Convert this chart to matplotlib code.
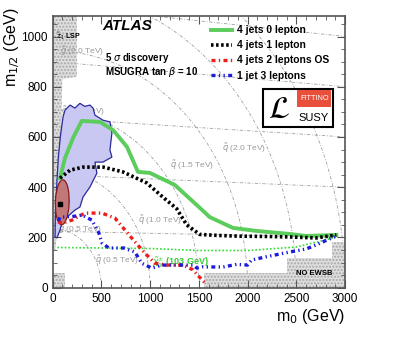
import numpy as np
import matplotlib
matplotlib.use("Agg")
import matplotlib.pyplot as plt
from matplotlib.patches import Polygon, Rectangle, Ellipse
from matplotlib.ticker import MultipleLocator

plt.rcParams['font.family'] = ['Liberation Sans', 'DejaVu Sans']
plt.rcParams['mathtext.fontset'] = 'dejavusans'

# ---------------- data ----------------
green_m0 = [77, 128, 215, 300, 486, 620, 763, 876, 998, 1254, 1510, 1612, 1850, 2090, 2430, 2600, 2910]
green_m12 = [436, 516, 600, 664, 660, 628, 561, 461, 457, 409, 318, 281, 238, 226, 214, 206, 210]

black_m0 = [77, 180, 313, 520, 722, 966, 1133, 1272, 1376, 1510, 1700, 1920, 2200, 2430, 2700, 2910]
black_m12 = [436, 468, 480, 480, 461, 417, 360, 315, 250, 212, 208, 205, 204, 202, 198, 210]

red_m0 = [56, 97, 200, 333, 507, 640, 742, 844, 946, 1048, 1170, 1340, 1440, 1500, 1560]
red_m12 = [262, 257, 269, 297, 297, 277, 230, 183, 138, 98, 90, 90, 71, 45, 20]

blue_m0 = [60, 77, 200, 302, 404, 476, 507, 578, 731, 844, 916, 1018, 1120, 1272, 1440, 1480,
           1540, 1745, 1890, 2000, 2040, 2190, 2430, 2600, 2700, 2910]
blue_m12 = [265, 281, 283, 289, 269, 217, 178, 158, 158, 142, 97, 78, 90, 90, 90, 78,
            83, 82, 93, 90, 110, 123, 142, 154, 170, 206]

lep_m0 = [50, 1000, 1500, 2000, 2500, 2900]
lep_m12 = [160, 156, 148, 148, 162, 200]

fit95_m0 = [128, 180, 230, 281, 330, 384, 416, 435, 517, 589, 609, 589, 609, 517, 435, 455,
            384, 313, 281, 230, 148, 97, 77, 46, 26, 30, 46, 60, 80, 108]
fit95_m12 = [707, 727, 715, 734, 722, 727, 715, 687, 667, 660, 616, 548, 520, 500, 500, 456,
             401, 361, 321, 309, 281, 257, 230, 198, 202, 300, 428, 520, 600, 680]

lsp_m0 = [0, 250, 250, 100, 90, 60, 40, 30, 0]
lsp_m12 = [1082, 1082, 840, 830, 600, 400, 200, 150, 150]

corner_m0 = [0, 130, 130, 0]
corner_m12 = [0, 0, 58, 58]

ewsb_m0 = [1550, 1550, 2400, 2400, 2870, 2870, 3000, 3000]
ewsb_m12 = [0, 58, 58, 118, 118, 180, 180, 0]

squark_masses = [500, 1000, 1500, 2000, 2500, 3000]
gluino_masses = [500, 1000, 1500, 2000, 2500]

legend_labels = ['4 jets 0 lepton', '4 jets 1 lepton', '4 jets 2 leptons OS', '1 jet 3 leptons']

# ---------------- figure ----------------
fig = plt.figure(figsize=(4.07, 3.44), dpi=100)
ax = fig.add_axes([0.129, 0.1637, 0.719, 0.79])
ax.set_xlim(0, 3000)
ax.set_ylim(0, 1082)

gray = '#a0a0a0'
# squark iso-mass contours
m0g = np.linspace(0, 3000, 600)
for M in squark_masses:
    v = (M**2 - m0g**2) / 4.5
    ok = v >= 0
    ax.plot(m0g[ok], np.sqrt(v[ok]), color=gray, lw=0.6, ls=(0, (4, 2, 1, 2)), zorder=1)
# gluino iso-mass contours
for M in gluino_masses:
    ax.plot(m0g, M * 0.45 * (1 - 0.037 * m0g / 1000), color=gray, lw=0.6,
            ls=(0, (4, 2, 1, 2)), zorder=1)

lblkw = dict(color='#999999', fontsize=6, zorder=2)
ax.text(80, 930, r'$\tilde{g}$ (2.0 TeV)', **lblkw)
ax.text(90, 690, r'$\tilde{g}$ (1.5 TeV)', **lblkw)
ax.text(60, 222, r'$\tilde{g}$ (0.5 TeV)', **lblkw)
ax.text(1740, 545, r'$\tilde{q}$ (2.0 TeV)', **lblkw)
ax.text(1200, 478, r'$\tilde{q}$ (1.5 TeV)', **lblkw)
ax.text(880, 256, r'$\tilde{q}$ (1.0 TeV)', **lblkw)
ax.text(440, 100, r'$\tilde{q}$ (0.5 TeV)', **lblkw)

# hatched excluded regions
hkw = dict(facecolor='#dedede', edgecolor='#a8a8a8', hatch='.....', lw=0, zorder=1.5)
ax.add_patch(Polygon(list(zip(lsp_m0, lsp_m12)), closed=True, **hkw))
ax.add_patch(Polygon(list(zip(corner_m0, corner_m12)), closed=True, **hkw))
ax.add_patch(Polygon(list(zip(ewsb_m0, ewsb_m12)), closed=True, **hkw))
ax.text(2500, 58, 'NO EWSB', fontsize=5.5, fontweight='bold', va='center', zorder=3)
ax.text(40, 1000, r'$\tilde{\tau}_1$ LSP', fontsize=5, fontweight='bold', va='center', zorder=3)

# Fittino regions
ax.add_patch(Polygon(list(zip(fit95_m0, fit95_m12)), closed=True, facecolor='#c8c8f2',
                     edgecolor='#2a2a9a', lw=0.9, zorder=2))
ax.add_patch(Ellipse((100, 340), 140, 180, angle=-10, facecolor='#c07878',
                     edgecolor='#8a1a1a', lw=0.9, zorder=2.5))
ax.plot([75], [335], marker='s', ms=2.5, color='black', zorder=3)

# LEP chargino line
ax.plot(lep_m0, lep_m12, color='#33dd33', lw=1.2, ls=(0, (1, 1.2)), zorder=3)
ax.text(1020, 98, r'$\tilde{\chi}^{\pm}_{1}$ (103 GeV)', color='#33cc33', fontsize=6.5,
        fontweight='bold', va='center', zorder=3)

# discovery contours
l1, = ax.plot(green_m0, green_m12, color='#5ccc5c', lw=2.8, zorder=4)
l2, = ax.plot(black_m0, black_m12, color='black', lw=2.6, ls=(0, (0.7, 0.7)), zorder=4)
l3, = ax.plot(red_m0, red_m12, color='#ee1c1c', lw=2.4, ls=(0, (1.2, 1.0, 0.4, 1.0)), zorder=4)
l4, = ax.plot(blue_m0, blue_m12, color='#1c1cdd', lw=2.4, ls=(0, (1.2, 1.0, 0.4, 1.0, 0.4, 1.0)), zorder=4)

leg = ax.legend([l1, l2, l3, l4], legend_labels, loc='upper left',
                bbox_to_anchor=(0.525, 0.985), frameon=False, borderpad=0,
                handlelength=2.0, handletextpad=0.5, labelspacing=0.5,
                prop={'size': 7.4, 'weight': 'bold'})

# texts
ax.text(510, 1043, 'ATLAS', fontsize=11, fontweight='bold', style='italic', va='center')
ax.text(540, 915, r'5 $\sigma$ discovery', fontsize=7, fontweight='bold', va='center')
ax.text(540, 858, r'MSUGRA tan $\beta$ = 10', fontsize=7, fontweight='bold', va='center')

# Fittino logo
ax.add_patch(Rectangle((0.72, 0.591), 0.239, 0.14, transform=ax.transAxes, facecolor='white',
                       edgecolor='black', lw=1.5, zorder=5))
ax.add_patch(Rectangle((0.836, 0.665), 0.117, 0.062, transform=ax.transAxes,
                       facecolor='#e8503c', edgecolor='none', zorder=6))
ax.text(0.8945, 0.696, 'FITTINO', transform=ax.transAxes, color='white', fontsize=5.3,
        ha='center', va='center', zorder=7)
ax.text(0.892, 0.625, 'SUSY', transform=ax.transAxes, color='black', fontsize=8,
        ha='center', va='center', zorder=7)
ax.text(0.775, 0.655, r'$\mathcal{L}$', transform=ax.transAxes, color='black', fontsize=22,
        ha='center', va='center', zorder=7)

# axes styling
ax.xaxis.set_major_locator(MultipleLocator(500))
ax.xaxis.set_minor_locator(MultipleLocator(100))
ax.yaxis.set_major_locator(MultipleLocator(200))
ax.yaxis.set_minor_locator(MultipleLocator(50))
ax.tick_params(which='both', direction='in', top=True, right=True, labelsize=8.5,
               color='#555555')
ax.tick_params(which='major', length=6)
ax.tick_params(which='minor', length=3)
for s in ax.spines.values():
    s.set_color('#555555')
    s.set_linewidth(1.2)

ax.set_xlabel(r'm$_0$ (GeV)', fontsize=11.5, loc='right', labelpad=2)
ax.set_ylabel(r'm$_{1/2}$ (GeV)', fontsize=11.5, loc='top')
ax.yaxis.set_label_coords(-0.105, 1.03)

fig.savefig('out.png', dpi=100)
